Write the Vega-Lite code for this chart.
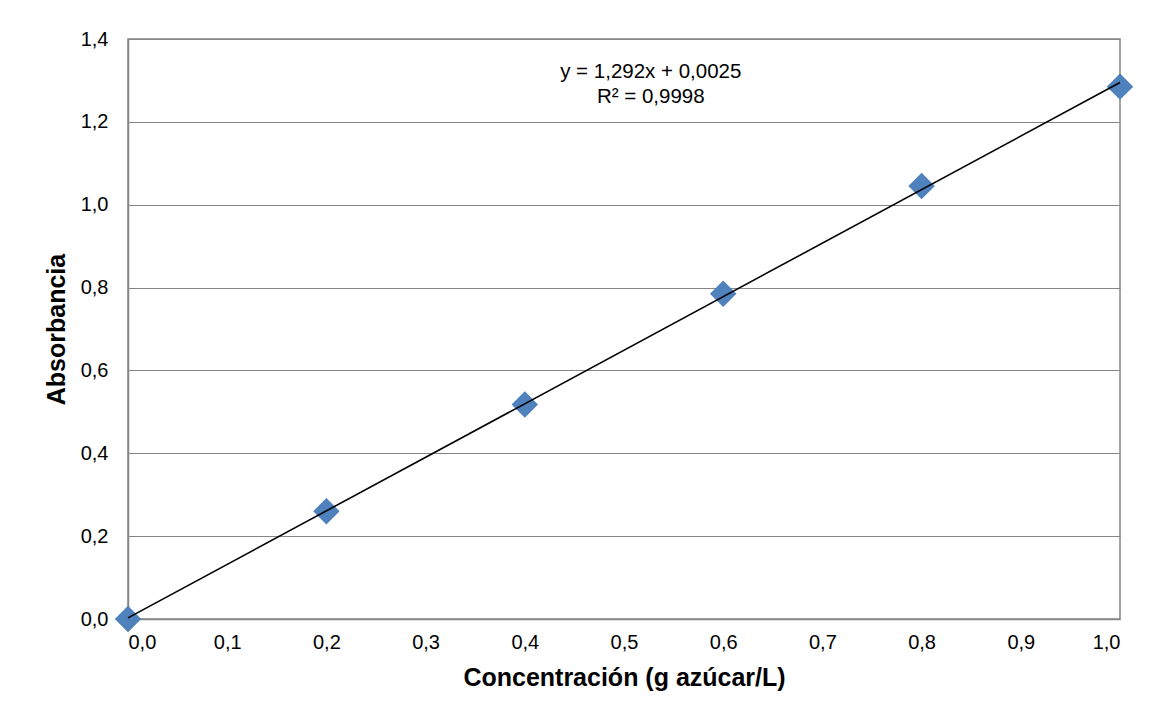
{
  "$schema": "https://vega.github.io/schema/vega-lite/v6.json",
  "autosize": {"type": "none"},
  "width": 992,
  "height": 580,
  "padding": {"left": 128, "top": 39, "right": 34, "bottom": 103},
  "background": "white",
  "config": {
    "font": "Liberation Sans",
    "view": {"stroke": "#868686", "strokeWidth": 1.5},
    "axis": {
      "labelFont": "Liberation Sans",
      "titleFont": "Liberation Sans",
      "labelColor": "black",
      "titleColor": "black",
      "domainColor": "#868686",
      "domainWidth": 1.5,
      "gridColor": "#868686",
      "gridWidth": 1,
      "ticks": false
    }
  },
  "datasets": {
    "points": [
      {"conc": 0.0, "abs": 0.0},
      {"conc": 0.2, "abs": 0.26},
      {"conc": 0.4, "abs": 0.518},
      {"conc": 0.6, "abs": 0.785},
      {"conc": 0.8, "abs": 1.045},
      {"conc": 1.0, "abs": 1.285}
    ],
    "notes": [
      {"line1": "y = 1,292x + 0,0025", "line2": "R² = 0,9998"}
    ]
  },
  "layer": [
    {
      "data": {"name": "points"},
      "mark": {"type": "point", "shape": "diamond", "filled": true, "color": "#4F81BD", "opacity": 1, "size": 700},
      "encoding": {
        "x": {
          "field": "conc", "type": "quantitative",
          "scale": {"domain": [0, 1], "nice": false, "zero": false},
          "axis": {
            "title": "Concentración (g azúcar/L)",
            "values": [0, 0.1, 0.2, 0.3, 0.4, 0.5, 0.6, 0.7, 0.8, 0.9, 1.0],
            "labelExpr": "replace(format(datum.value, '.1f'), '.', ',')",
            "grid": false,
            "labelFontSize": 20,
            "labelPadding": 13,
            "titleFontSize": 25,
            "titleFontWeight": "bold",
            "titlePadding": 13
          }
        },
        "y": {
          "field": "abs", "type": "quantitative",
          "scale": {"domain": [0, 1.4], "nice": false},
          "axis": {
            "title": "Absorbancia",
            "values": [0, 0.2, 0.4, 0.6, 0.8, 1.0, 1.2, 1.4],
            "labelExpr": "replace(format(datum.value, '.1f'), '.', ',')",
            "grid": true,
            "labelFontSize": 20,
            "labelPadding": 20,
            "titleFontSize": 25,
            "titleFontWeight": "bold",
            "titlePadding": 11
          }
        }
      }
    },
    {
      "data": {"name": "points"},
      "transform": [
        {"regression": "abs", "on": "conc", "method": "linear", "extent": [0, 1]}
      ],
      "mark": {"type": "line", "color": "black", "strokeWidth": 1.6},
      "encoding": {
        "x": {"field": "conc", "type": "quantitative"},
        "y": {"field": "abs", "type": "quantitative"}
      }
    },
    {
      "data": {"name": "notes"},
      "mark": {"type": "text", "fontSize": 20.5, "color": "black", "align": "center", "baseline": "middle"},
      "encoding": {
        "x": {"datum": 0.527, "type": "quantitative"},
        "y": {"datum": 1.32, "type": "quantitative"},
        "text": {"field": "line1"}
      }
    },
    {
      "data": {"name": "notes"},
      "mark": {"type": "text", "fontSize": 20.5, "color": "black", "align": "center", "baseline": "middle"},
      "encoding": {
        "x": {"datum": 0.527, "type": "quantitative"},
        "y": {"datum": 1.26, "type": "quantitative"},
        "text": {"field": "line2"}
      }
    }
  ]
}
